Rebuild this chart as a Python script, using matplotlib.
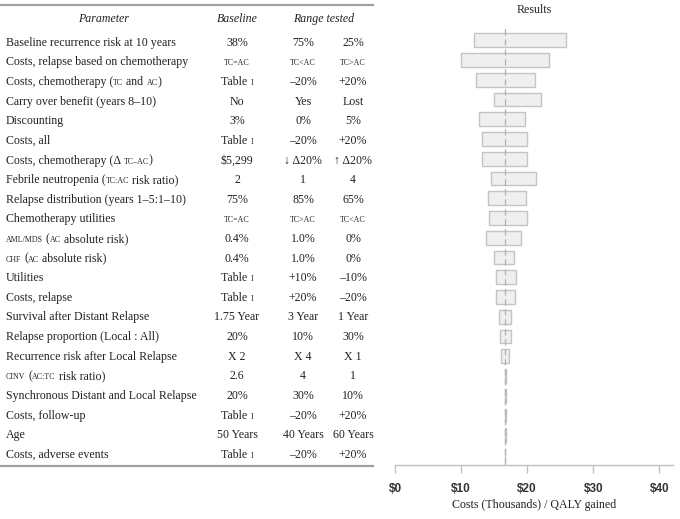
import re
import matplotlib
matplotlib.use('Agg')
import matplotlib.pyplot as plt

# Dane tabeli (parametry analizy wrazliwosci); {..} = kapitaliki
params = [
    'Baseline recurrence risk at 10 years',
    'Costs, relapse based on chemotherapy',
    'Costs, chemotherapy ({tc} and {ac})',
    'Carry over benefit (years 8\u201310)',
    'Discounting',
    'Costs, all',
    'Costs, chemotherapy (\u0394 {tc\u2013ac})',
    'Febrile neutropenia ({tc:ac} risk ratio)',
    'Relapse distribution (years 1\u20135:1\u201310)',
    'Chemotherapy utilities',
    '{aml/mds} ({ac} absolute risk)',
    '{chf} ({ac} absolute risk)',
    'Utilities',
    'Costs, relapse',
    'Survival after Distant Relapse',
    'Relapse proportion (Local : All)',
    'Recurrence risk after Local Relapse',
    '{cinv} ({ac:tc} risk ratio)',
    'Synchronous Distant and Local Relapse',
    'Costs, follow-up',
    'Age',
    'Costs, adverse events',
]
baseline = ['38%', '{tc=ac}', 'Table {i}', 'No', '3%', 'Table {i}', '$5,299', '2',
            '75%', '{tc=ac}', '0.4%', '0.4%', 'Table {i}', 'Table {i}', '1.75 Year',
            '20%', 'X 2', '2.6', '20%', 'Table {i}', '50 Years', 'Table {i}']
range_low = ['75%', '{tc<ac}', '\u201320%', 'Yes', '0%', '\u201320%', '\u2193 \u039420%', '1',
             '85%', '{tc>ac}', '1.0%', '1.0%', '+10%', '+20%', '3 Year',
             '10%', 'X 4', '4', '30%', '\u201320%', '40 Years', '\u201320%']
range_high = ['25%', '{tc>ac}', '+20%', 'Lost', '5%', '+20%', '\u2191 \u039420%', '4',
              '65%', '{tc<ac}', '0%', '0%', '\u201310%', '\u201320%', '1 Year',
              '30%', 'X 1', '1', '10%', '+20%', '60 Years', '+20%']

# Wyniki: koszt / QALY (tys. $) dla dolnej i gornej granicy zakresu
res_low = [12.0, 10.05, 12.2, 15.0, 12.7, 13.2, 13.2, 14.6, 14.0, 14.3, 13.7,
           15.05, 15.35, 15.35, 15.8, 15.95, 16.1, 16.6, 16.6, 16.6, 16.6, 16.68]
res_high = [25.9, 23.3, 21.2, 22.1, 19.65, 20.05, 20.05, 21.3, 19.8, 20.05, 19.05,
            18.0, 18.3, 18.15, 17.5, 17.5, 17.2, 16.85, 16.85, 16.85, 16.85, 16.72]
base_icer = 16.7

SERIF = ['Liberation Serif', 'DejaVu Serif']
TXT = '#222222'
FS = 8.6

fig = plt.figure(figsize=(6.8, 5.19), dpi=100)
renderer = fig.canvas.get_renderer()

# os "pikselowa" dla tabeli
tab = fig.add_axes([0, 0, 1, 1])
tab.set_xlim(0, 680)
tab.set_ylim(519, 0)
tab.axis('off')


def width_px(txt, size, style='normal'):
    a = tab.text(0, 0, 'x' + txt + 'x', fontsize=size, family=SERIF, style=style)
    b = tab.text(0, 0, 'xx', fontsize=size, family=SERIF, style=style)
    w = a.get_window_extent(renderer).width - b.get_window_extent(renderer).width
    a.remove()
    b.remove()
    return w


def rich(x, y, s, ha='left', size=FS, style='normal'):
    pieces = []
    for p in re.split(r'(\{[^}]*\})', s):
        if not p:
            continue
        if p.startswith('{'):
            pieces.append((p[1:-1].upper(), size * 0.66))
        else:
            pieces.append((p, size))
    ws = [width_px(t, sz, style) for t, sz in pieces]
    total = sum(ws)
    cx = x - total / 2 if ha == 'center' else x
    for (t, sz), w in zip(pieces, ws):
        body = t.lstrip(' ')
        lead = width_px(' ' * (len(t) - len(body)), sz, style) if body != t else 0
        tab.text(cx + lead, y, body, fontsize=sz, family=SERIF, style=style,
                 color=TXT, ha='left', va='baseline')
        cx += w


# linie tabeli
tab.plot([0, 373], [5, 5], color='#a0a0a0', lw=1.6)
tab.plot([0, 373], [465.5, 465.5], color='#a0a0a0', lw=1.6)

# naglowki
rich(103, 22.3, 'Parameter', ha='center', style='italic')
rich(237, 22.3, 'Baseline', ha='center', style='italic')
rich(323.5, 22.3, 'Range tested', ha='center', style='italic')

row_step = 19.62
for i in range(len(params)):
    yb = 45.8 + i * row_step
    rich(6, yb, params[i])
    rich(237, yb, baseline[i], ha='center')
    rich(303, yb, range_low[i], ha='center')
    rich(353, yb, range_high[i], ha='center')

# wykres tornado
top_px, bot_px = 28, 465
c0, dc = 40.3, 19.745
ax = fig.add_axes([395 / 680, 1 - bot_px / 519, (673 - 395) / 680, (bot_px - top_px) / 519])
ax.patch.set_alpha(0)
rows = list(range(len(params)))
widths = [h - l for l, h in zip(res_low, res_high)]
ax.barh(rows, widths, left=res_low, height=0.7, color='#eeefef',
        edgecolor='#c4c4c4', linewidth=1.0, zorder=2)
ax.axvline(base_icer, color='#b0b0b0', lw=0.9, ls=(0, (5, 3)), zorder=3)
ax.set_xlim(0, 42.07)
ax.set_ylim((bot_px - c0) / dc, (top_px - c0) / dc)
ax.set_yticks([])
for s in ['left', 'right', 'top']:
    ax.spines[s].set_visible(False)
ax.spines['bottom'].set_color('#c0c0c0')
ax.spines['bottom'].set_linewidth(1.0)
ax.set_xticks([0, 10, 20, 30, 40])
ax.set_xticklabels(['$0', '$10', '$20', '$30', '$40'])
ax.tick_params(axis='x', length=6, width=1.0, color='#c0c0c0', pad=7,
               labelsize=8.5, labelcolor='#333333')
for lab in ax.get_xticklabels():
    lab.set_family(['Liberation Sans Narrow', 'Liberation Sans', 'DejaVu Sans'])
    lab.set_fontweight('bold')
ax.set_xlabel('Costs (Thousands) / QALY gained', family=SERIF, fontsize=FS,
              color=TXT, labelpad=3)
ax.set_title('Results', family=SERIF, fontsize=FS, color=TXT, pad=11)

fig.savefig('out.png', dpi=100)
